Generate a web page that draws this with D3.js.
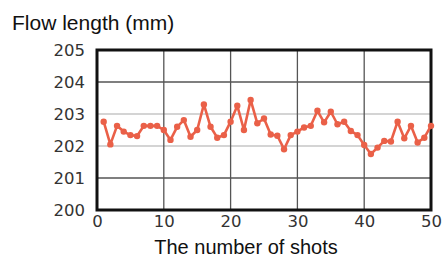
<!DOCTYPE html>
<html><head><meta charset="utf-8">
<script src="https://cdn.jsdelivr.net/npm/d3@7"></script>
<style>html,body{margin:0;padding:0;background:#fff;overflow:hidden}</style>
</head><body>
<svg id="c" width="442" height="257"></svg>
<script>
const shots = d3.range(1, 51);
const flowLength = [202.76,202.05,202.63,202.45,202.34,202.31,202.63,202.63,202.63,202.5,
  202.19,202.6,202.81,202.29,202.5,203.3,202.6,202.26,202.34,202.76,
  203.26,202.5,203.44,202.71,202.86,202.36,202.32,201.9,202.34,202.45,
  202.58,202.63,203.1,202.74,203.07,202.68,202.76,202.47,202.34,202.03,
  201.75,201.95,202.16,202.14,202.76,202.24,202.63,202.11,202.26,202.63];
const xTicks = [0,10,20,30,40,50];
const yTicks = [200,201,202,203,204,205];
const bandLines = [202,203];
const darkLines = [201,204];
const yTitle = "Flow length (mm)";
const xTitle = "The number of shots";

const svg = d3.select("#c");
const L=97, R=431, T=50, B=210;
const x = d3.scaleLinear().domain([0,50]).range([L,R]);
const y = d3.scaleLinear().domain([200,205]).range([B,T]);
const col = "#ea6048";

// grid
svg.append("g").selectAll("line").data(bandLines).join("line")
  .attr("x1",L).attr("x2",R).attr("y1",d=>y(d)).attr("y2",d=>y(d))
  .attr("stroke","#d4d4d4").attr("stroke-width",2.2);
svg.append("g").selectAll("line").data(darkLines).join("line")
  .attr("x1",L).attr("x2",R).attr("y1",d=>y(d)).attr("y2",d=>y(d))
  .attr("stroke","#555").attr("stroke-width",1.3);
svg.append("g").selectAll("line").data(xTicks.slice(1,-1)).join("line")
  .attr("x1",d=>x(d)).attr("x2",d=>x(d)).attr("y1",T).attr("y2",B)
  .attr("stroke","#555").attr("stroke-width",1.3);

// axes labels via d3 axes
const ya = svg.append("g").attr("transform",`translate(${L},0)`)
  .call(d3.axisLeft(y).tickValues(yTicks).tickSize(0).tickPadding(12).tickFormat(d3.format("d")));
ya.select(".domain").remove();
ya.selectAll("text").attr("font-family","DejaVu Sans").attr("font-size",16.5).attr("fill","#333").attr("dy","0.36em");

const xa = svg.append("g").attr("transform",`translate(0,${B})`)
  .call(d3.axisBottom(x).tickValues(xTicks).tickSize(0).tickPadding(5).tickFormat(d3.format("d")));
xa.select(".domain").remove();
xa.selectAll("text").attr("font-family","DejaVu Sans").attr("font-size",16.5).attr("fill","#333");

// frame
svg.append("rect").attr("x",L).attr("y",T).attr("width",R-L).attr("height",B-T)
  .attr("fill","none").attr("stroke","#111").attr("stroke-width",3);

// series
const line = d3.line().x((d,i)=>x(shots[i])).y(d=>y(d));
svg.append("path").datum(flowLength).attr("d",line).attr("fill","none")
  .attr("stroke",col).attr("stroke-width",2.6).attr("stroke-linejoin","round");
svg.append("g").selectAll("circle").data(flowLength).join("circle")
  .attr("cx",(d,i)=>x(shots[i])).attr("cy",d=>y(d)).attr("r",3.2).attr("fill",col);

// titles
svg.append("text").attr("x",12).attr("y",30).text(yTitle)
  .attr("font-family","Liberation Sans").attr("font-size",21).attr("fill","#111");
svg.append("text").attr("x",246).attr("y",254).attr("text-anchor","middle").text(xTitle)
  .attr("font-family","Liberation Sans").attr("font-size",20).attr("fill","#111");
</script>
</body></html>
